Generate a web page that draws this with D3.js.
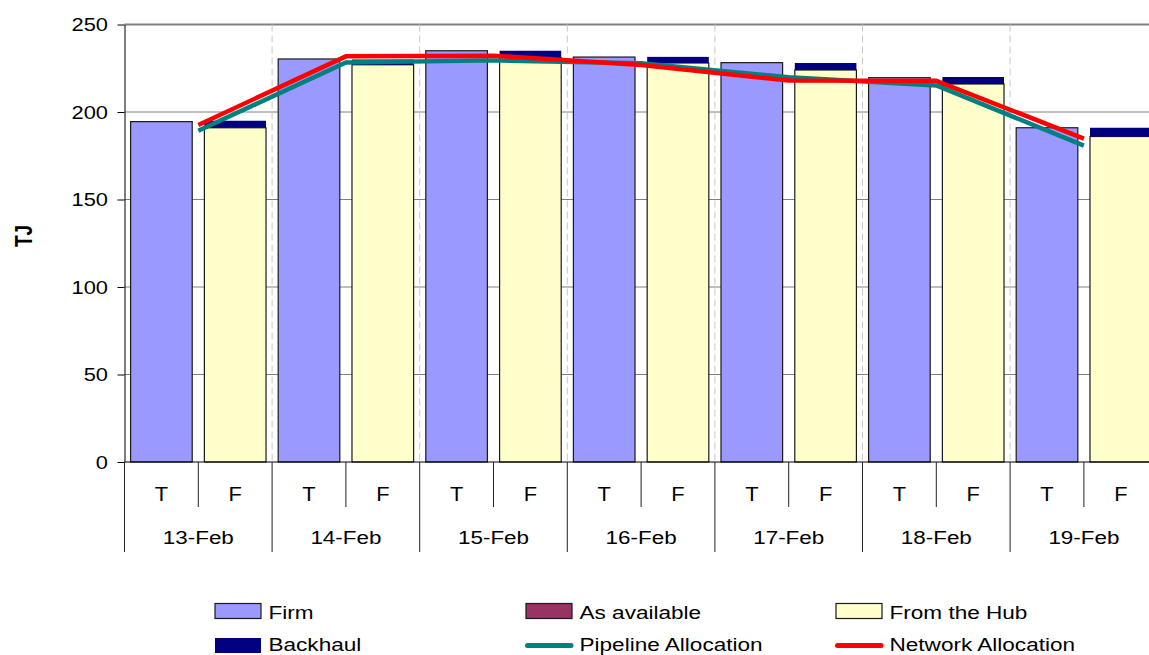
<!DOCTYPE html>
<html>
<head>
<meta charset="utf-8">
<script src="https://cdn.jsdelivr.net/npm/d3@7"></script>
<style>
  body { margin: 0; background: #fff; }
  svg { display: block; font-family: "Liberation Sans", Arial, sans-serif; }
</style>
</head>
<body>
<svg id="chart" width="1149" height="655"></svg>
<script>
// Daily gas volumes (TJ), split by shift: T bars and F bars
const days = ["13-Feb", "14-Feb", "15-Feb", "16-Feb", "17-Feb", "18-Feb", "19-Feb"];
const shifts = ["T", "F"];
const yTicks = [0, 50, 100, 150, 200, 250];

// T bars
const firm        = [194.5, 230.3, 235.0, 231.4, 228.2, 219.6, 191.0];
const asAvailable = [0, 0, 0, 0, 0, 0, 0];
// F bars
const fromHub     = [191.0, 227.0, 231.0, 228.0, 224.0, 216.0, 186.0];
const backhaul    = [4.0, 3.0, 4.0, 3.5, 4.0, 4.0, 5.0];
// Allocation lines (one point per day)
const pipelineAlloc = [189.3, 228.3, 229.5, 227.8, 219.8, 215.2, 180.8];
const networkAlloc  = [192.6, 231.8, 232.2, 226.9, 218.0, 217.8, 184.8];

const seriesNames = ["Firm", "As available", "From the Hub", "Backhaul", "Pipeline Allocation", "Network Allocation"];
const colors = {
  firm: "#9999FF", asAvailable: "#993366", fromHub: "#FFFFCC",
  backhaul: "#000080", pipeline: "#008080", network: "#FF0000"
};

const W = 1149, H = 655;
const plotLeft = 124.5, plotTop = 24.5, plotBottom = 462, slotW = 73.8;
const svg = d3.select("#chart");
svg.append("rect").attr("width", W).attr("height", H).attr("fill", "#fff");

const cats = days.flatMap(d => shifts.map(s => d + "|" + s));
const plotRight = plotLeft + slotW * cats.length;
const x = d3.scaleBand().domain(cats).range([plotLeft, plotRight])
  .paddingInner(0.165).paddingOuter(0.0825);
const xDay = d3.scaleBand().domain(days).range([plotLeft, plotRight]);
const y = d3.scaleLinear().domain([0, 250]).range([plotBottom, plotTop]);

// text with the wide horizontal proportions used throughout the chart
function label(g, txt, px, py, size, sx, anchor, weight) {
  return g.append("text")
    .attr("transform", `translate(${px},${py}) scale(${sx},1)`)
    .attr("text-anchor", anchor || "middle")
    .attr("font-size", size)
    .attr("font-weight", weight || "normal")
    .attr("fill", "#000")
    .text(txt);
}

// gridlines
const grid = svg.append("g");
yTicks.filter(v => v > 0).forEach(v => {
  grid.append("line")
    .attr("x1", plotLeft).attr("x2", W)
    .attr("y1", y(v)).attr("y2", y(v))
    .attr("stroke", "#808080")
    .attr("stroke-width", v === 250 ? 2 : 1);
});
days.slice(1).forEach(d => {
  grid.append("line")
    .attr("x1", xDay(d)).attr("x2", xDay(d))
    .attr("y1", plotTop).attr("y2", plotBottom)
    .attr("stroke", "#c8c8c8").attr("stroke-width", 1)
    .attr("stroke-dasharray", "7,4");
});

// stacked bars
const keys = ["firm", "asAvailable", "fromHub", "backhaul"];
const rows = [];
days.forEach((d, i) => {
  rows.push({ cat: d + "|T", firm: firm[i], asAvailable: asAvailable[i], fromHub: 0, backhaul: 0 });
  rows.push({ cat: d + "|F", firm: 0, asAvailable: 0, fromHub: fromHub[i], backhaul: backhaul[i] });
});
const stacked = d3.stack().keys(keys)(rows);
const bars = svg.append("g");
stacked.forEach(layer => {
  bars.selectAll(null)
    .data(layer.filter(s => s[1] - s[0] > 0))
    .join("rect")
    .attr("x", s => x(s.data.cat))
    .attr("width", x.bandwidth())
    .attr("y", s => y(s[1]))
    .attr("height", s => y(s[0]) - y(s[1]))
    .attr("fill", colors[layer.key])
    .attr("stroke", layer.key === "backhaul" ? "none" : "#1a1a1a")
    .attr("stroke-width", 1.2);
});

// allocation lines at the day centres
const lineGen = d3.line()
  .x((v, i) => xDay(days[i]) + xDay.bandwidth() / 2)
  .y(v => y(v));
svg.append("path").datum(pipelineAlloc)
  .attr("d", lineGen).attr("fill", "none")
  .attr("stroke", colors.pipeline).attr("stroke-width", 4.5)
  .attr("stroke-linejoin", "round");
svg.append("path").datum(networkAlloc)
  .attr("d", lineGen).attr("fill", "none")
  .attr("stroke", colors.network).attr("stroke-width", 4.5)
  .attr("stroke-linejoin", "round");

// y axis
const yAxis = svg.append("g")
  .attr("transform", `translate(${plotLeft},0)`)
  .call(d3.axisLeft(y).tickValues(yTicks).tickSize(7).tickSizeOuter(0));
yAxis.select(".domain").attr("stroke", "#000");
yAxis.selectAll(".tick line").attr("stroke", "#000");
yAxis.selectAll(".tick text")
  .attr("x", null).attr("dy", "0.36em")
  .attr("transform", "translate(-16.5,0) scale(1.25,1)")
  .attr("font-size", 17.5)
  .attr("font-family", "Liberation Sans, Arial, sans-serif")
  .attr("fill", "#000");

// y title
svg.append("text")
  .attr("transform", "translate(31.5,236) scale(1.25,1) rotate(-90)")
  .attr("text-anchor", "middle")
  .attr("font-size", 19).attr("font-weight", "bold")
  .text("TJ");

// category axis (two levels)
const xa = svg.append("g");
xa.append("line").attr("x1", plotLeft).attr("x2", W)
  .attr("y1", plotBottom).attr("y2", plotBottom).attr("stroke", "#000");
days.forEach(d => {
  const x0 = xDay(d), mid = x0 + xDay.bandwidth() / 2;
  xa.append("line").attr("x1", x0).attr("x2", x0)
    .attr("y1", plotBottom).attr("y2", 552).attr("stroke", "#222");
  xa.append("line").attr("x1", mid).attr("x2", mid)
    .attr("y1", plotBottom).attr("y2", 507).attr("stroke", "#222");
  shifts.forEach(s => {
    const c = d + "|" + s;
    label(xa, s, x(c) + x.bandwidth() / 2, 501, 19.5, 1.12, "middle");
  });
  label(xa, d, mid, 544, 19, 1.18, "middle");
});

// legend
const legendItems = [
  { name: seriesNames[0], kind: "box", color: colors.firm, stroke: true, col: 0, row: 0 },
  { name: seriesNames[1], kind: "box", color: colors.asAvailable, stroke: true, col: 1, row: 0 },
  { name: seriesNames[2], kind: "box", color: colors.fromHub, stroke: true, col: 2, row: 0 },
  { name: seriesNames[3], kind: "box", color: colors.backhaul, stroke: false, col: 0, row: 1 },
  { name: seriesNames[4], kind: "line", color: colors.pipeline, col: 1, row: 1 },
  { name: seriesNames[5], kind: "line", color: colors.network, col: 2, row: 1 }
];
const colX = [215, 526, 836];
const rowY = [603.5, 638];
const textBase = [618.5, 650.5];
const lg = svg.append("g");
legendItems.forEach(it => {
  const sx = colX[it.col], sy = rowY[it.row];
  if (it.kind === "box") {
    lg.append("rect").attr("x", sx).attr("y", sy).attr("width", 46).attr("height", 15)
      .attr("fill", it.color)
      .attr("stroke", it.stroke ? "#1a1a1a" : "none").attr("stroke-width", 1.2);
  } else {
    lg.append("line").attr("x1", sx + 1.5).attr("x2", sx + 45)
      .attr("y1", sy + 7.5).attr("y2", sy + 7.5)
      .attr("stroke", it.color).attr("stroke-width", 5)
      .attr("stroke-linecap", "round");
  }
  label(lg, it.name, sx + 53.5, textBase[it.row], 18.5, 1.22, "start");
});
</script>
</body>
</html>
